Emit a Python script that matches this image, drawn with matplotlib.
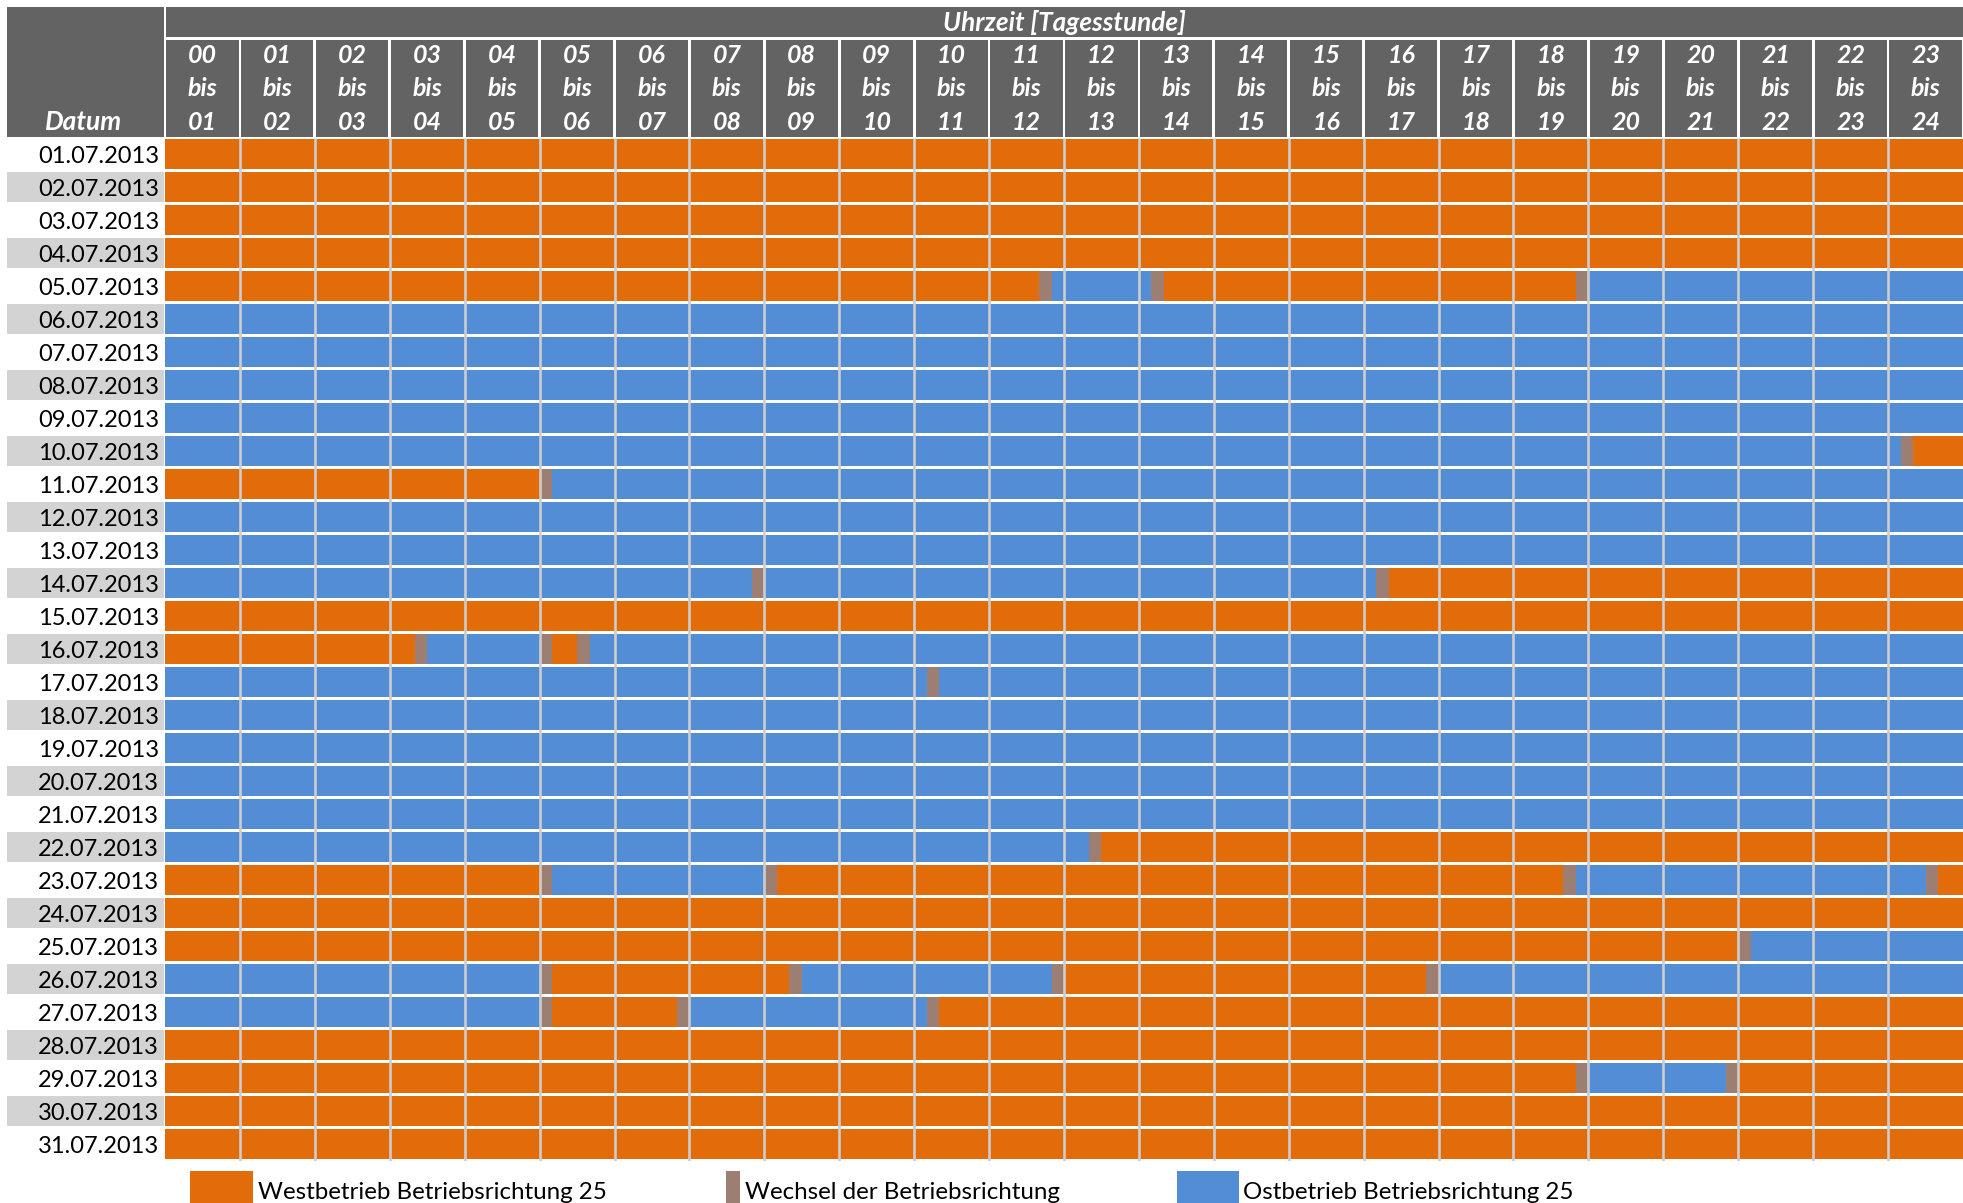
import matplotlib
matplotlib.use('Agg')
import matplotlib.pyplot as plt
from matplotlib.patches import Rectangle

plt.rcParams['font.family'] = ['Lato', 'DejaVu Sans']

# --- data -------------------------------------------------------------
dates = ['01.07.2013', '02.07.2013', '03.07.2013', '04.07.2013', '05.07.2013',
         '06.07.2013', '07.07.2013', '08.07.2013', '09.07.2013', '10.07.2013',
         '11.07.2013', '12.07.2013', '13.07.2013', '14.07.2013', '15.07.2013',
         '16.07.2013', '17.07.2013', '18.07.2013', '19.07.2013', '20.07.2013',
         '21.07.2013', '22.07.2013', '23.07.2013', '24.07.2013', '25.07.2013',
         '26.07.2013', '27.07.2013', '28.07.2013', '29.07.2013', '30.07.2013',
         '31.07.2013']

# operating direction at 00:00 (W = Westbetrieb, O = Ostbetrieb)
start_mode = ['W', 'W', 'W', 'W', 'W', 'O', 'O', 'O', 'O', 'O',
              'W', 'O', 'O', 'O', 'W', 'W', 'O', 'O', 'O', 'O',
              'O', 'O', 'W', 'W', 'W', 'O', 'O', 'W', 'W', 'W', 'W']

# changes of direction: (start of change, direction afterwards)
changes = [
    [], [], [], [],
    [('11:40', 'O'), ('13:10', 'W'), ('18:50', 'O')],
    [], [], [], [],
    [('23:10', 'W')],
    [('05:00', 'O')],
    [], [],
    [('07:50', 'O'), ('16:10', 'W')],
    [],
    [('03:20', 'O'), ('05:00', 'W'), ('05:30', 'O')],
    [('10:10', 'O')],
    [], [], [], [],
    [('12:20', 'W')],
    [('05:00', 'O'), ('08:00', 'W'), ('18:40', 'O'), ('23:30', 'W')],
    [],
    [('21:00', 'O')],
    [('05:00', 'W'), ('08:20', 'O'), ('11:50', 'W'), ('16:50', 'O')],
    [('05:00', 'W'), ('06:50', 'O'), ('10:10', 'W')],
    [],
    [('18:50', 'O'), ('20:50', 'W')],
    [], [],
]
change_minutes = 10

hour_labels = ['%02d' % h for h in range(25)]
legend_labels = ['Westbetrieb Betriebsrichtung 25', 'Wechsel der Betriebsrichtung',
                 'Ostbetrieb Betriebsrichtung 25']

COLORS = {'W': '#E26B0A', 'C': '#9C7F72', 'O': '#538DD5'}
HEAD = '#636363'
ALT = '#D3D3D3'
GRID = '#CDCDCD'


def to_h(hm):
    h, m = hm.split(':')
    return int(h) + int(m) / 60


fig = plt.figure(figsize=(19.63, 12.03), dpi=100)
ax = fig.add_axes([165 / 1963, 1 - 1160.55 / 1203, 1798 / 1963, 1023 / 1203])
ax.set_xlim(0, 24)
ax.set_ylim(30.5, -0.5)
ax.axis('off')

# bars per day
for i, (mode, ch) in enumerate(zip(start_mode, changes)):
    segs = {'W': [], 'C': [], 'O': []}
    t, cur = 0.0, mode
    for hm, new in ch:
        tc = to_h(hm)
        segs[cur].append((t, tc - t))
        segs['C'].append((tc, change_minutes / 60))
        t, cur = tc + change_minutes / 60, new
    segs[cur].append((t, 24 - t))
    for k, s in segs.items():
        if s:
            ax.broken_barh(s, (i - 0.45, 0.9), facecolors=COLORS[k], zorder=2)

ax.vlines(range(1, 24), -0.5, 30.5, colors=GRID, lw=1.9, zorder=3)

# header
kw = dict(clip_on=False, lw=0, zorder=4)
hd = dict(ha='center', va='center', color='white', fontweight='bold',
          fontstyle='italic', zorder=5)
ax.add_patch(Rectangle((0.02, -4.465), 23.98, 0.91, fc=HEAD, **kw))
ax.add_patch(Rectangle((-2.109, -4.465), 2.096, 3.955, fc=HEAD, **kw))
g = 0.018
for h in range(24):
    x0 = max(h + g, 0.02)
    ax.add_patch(Rectangle((x0, -3.456), h + 1 - g - x0, 2.946, fc=HEAD, **kw))
    for y, s in zip([-2.98, -1.98, -0.96], [hour_labels[h], 'bis', hour_labels[h + 1]]):
        ax.text(h + 0.5, y, s, fontsize=18, **hd)
ax.text(12, -4.0, 'Uhrzeit [Tagesstunde]', fontsize=18.8, **hd)
ax.text(-1.09, -0.97, 'Datum', fontsize=19, **hd)

# date labels
for i, d in enumerate(dates):
    if i % 2 == 1:
        ax.add_patch(Rectangle((-2.109, i - 0.45), 2.096, 0.9, fc=ALT, **kw))
    ax.text(-0.08, i + 0.06, d, ha='right', va='center', fontsize=17, color='black', zorder=5)

# legend
sw = [(0.334, 0.84, 'W', 1.24), (7.49, 0.18, 'C', 7.74), (13.51, 0.83, 'O', 14.39)]
for (x, w, k, tx), lab in zip(sw, legend_labels):
    ax.add_patch(Rectangle((x, 30.82), w, 1.2, fc=COLORS[k], **kw))
    ax.text(tx, 31.48, lab, ha='left', va='center', fontsize=17.4, color='black')

fig.savefig('out.png', dpi=100)
